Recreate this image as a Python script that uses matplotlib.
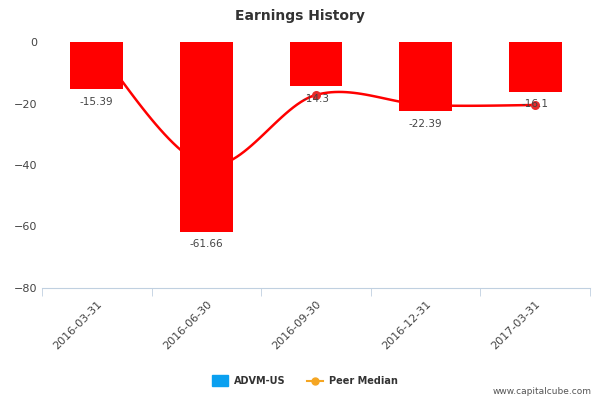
import numpy as np
import matplotlib
matplotlib.use("Agg")
import matplotlib.pyplot as plt

categories = ["2016-03-31", "2016-06-30", "2016-09-30", "2016-12-31", "2017-03-31"]
advm = [-15.39, -61.66, -14.3, -22.39, -16.1]
advm_labels = ["-15.39", "-61.66", "-14.3", "-22.39", "-16.1"]
peer = [-2.0, -40.0, -17.2, -20.5, -20.5]

fig = plt.figure(figsize=(6, 4), dpi=100)
ax = fig.add_axes([42/600, 1-288/400, 548/600, 246/400])
x = np.arange(len(categories))

# smooth line (Catmull-Rom) behind bars
px, py = [], []
pts = list(zip(x, peer))
ext = [pts[0]] + pts + [pts[-1]]
for i in range(1, len(ext) - 2):
    p0, p1, p2, p3 = [np.array(p, float) for p in ext[i-1:i+3]]
    for t in np.linspace(0, 1, 30):
        c = 0.5*((2*p1) + (-p0+p2)*t + (2*p0-5*p1+4*p2-p3)*t**2 + (-p0+3*p1-3*p2+p3)*t**3)
        px.append(c[0]); py.append(c[1])
ax.plot(px, py, color="#ff0000", lw=1.8, zorder=1)
ax.scatter(x, peer, color="#e82a2a", s=30, zorder=1)

ax.bar(x, advm, width=0.48, color="#ff0000", zorder=2)
for xi, v, l in zip(x, advm, advm_labels):
    ax.text(xi, v - 2.5, l, ha="center", va="top", fontsize=7.5, color="#444444", zorder=3)

ax.set_xlim(-0.5, 4.5)
ax.set_ylim(-80, 0)
ax.set_yticks([0, -20, -40, -60, -80])
ax.set_xticks(x)
ax.set_xticklabels(categories, rotation=45, ha="right", fontsize=8, color="#444444", rotation_mode="anchor")
ax.set_xticks(np.arange(-0.5, 5, 1), minor=True)
ax.tick_params(axis="x", which="major", length=0, pad=8)
ax.tick_params(axis="x", which="minor", length=6, color="#c0d0e0")
ax.tick_params(axis="y", length=0, labelsize=8, labelcolor="#444444")
for s in ["top", "right", "left"]:
    ax.spines[s].set_visible(False)
ax.spines["bottom"].set_color("#c0d0e0")
ax.set_facecolor("none")

fig.text(0.5, 1-16/400, "Earnings History", ha="center", va="center", fontsize=10, color="#333333", fontweight="bold")

fig.patches.append(plt.Rectangle((212/600, 1-386/400), 16/600, 11/400, color="#0aa0f0", transform=fig.transFigure))
fig.text(234/600, 1-381/400, "ADVM-US", fontsize=7, fontweight="bold", color="#333333", va="center")
fig.lines.append(plt.Line2D([307/600, 323/600], [1-381/400]*2, color="#f5a623", lw=1.5, transform=fig.transFigure))
fig.lines.append(plt.Line2D([315/600], [1-381/400], color="#f5a623", marker="o", ms=5, transform=fig.transFigure))
fig.text(329/600, 1-381/400, "Peer Median", fontsize=7, fontweight="bold", color="#333333", va="center")
fig.text(592/600, 1-392/400, "www.capitalcube.com", fontsize=6.5, color="#555555", ha="right", va="center")

fig.savefig("out.png", dpi=100)
